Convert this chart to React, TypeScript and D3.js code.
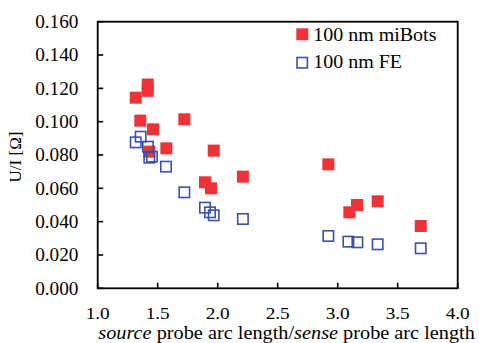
import React from "react";
import * as d3 from "d3";

// U/I versus probe arc-length ratio for two 100 nm probe types
const miBotsX = [1.317, 1.417, 1.417, 1.355, 1.461, 1.722, 1.43, 1.572, 1.967, 1.894, 1.944, 2.21, 2.922, 3.097, 3.161, 3.333, 3.692];
const miBotsY = [0.1144, 0.1223, 0.1185, 0.1006, 0.0954, 0.1014, 0.082, 0.084, 0.0826, 0.0636, 0.06, 0.067, 0.0744, 0.0456, 0.05, 0.0522, 0.0374];

const feX = [1.317, 1.358, 1.419, 1.43, 1.452, 1.569, 1.722, 1.894, 1.936, 1.967, 2.21, 2.922, 3.089, 3.164, 3.333, 3.692];
const feY = [0.0876, 0.091, 0.085, 0.0784, 0.079, 0.073, 0.0576, 0.0484, 0.0456, 0.0438, 0.0416, 0.0314, 0.028, 0.0276, 0.0264, 0.024];

const xTicks = [1.0, 1.5, 2.0, 2.5, 3.0, 3.5, 4.0];
const yTicks = [0, 0.02, 0.04, 0.06, 0.08, 0.1, 0.12, 0.14, 0.16];

const seriesNames = ["100 nm miBots", "100 nm FE"];

const W = 479;
const H = 343;
const left = 97.7;
const right = 457.7;
const top = 21.7;
const bottom = 288.3;

const RED = "#ee3238";
const BLUE = "#3d4fae";
const FONT = "Liberation Serif";

export default function App() {
  const x = d3.scaleLinear().domain([1, 4]).range([left, right]);
  const y = d3.scaleLinear().domain([0, 0.16]).range([bottom, top]);
  const s = 12;
  const tick = 5.5;
  const sx = (ax: number, k: number) => `translate(${ax} 0) scale(${k} 1) translate(${-ax} 0)`;

  return (
    <svg
      width={W}
      height={H}
      viewBox={`0 0 ${W} ${H}`}
      style={{ position: "absolute", left: 0, top: 0, background: "#fff", fontFamily: FONT }}
    >
      {/* ticks pointing inward */}
      {yTicks.map((t) => (
        <line key={`yt${t}`} x1={left} x2={left + tick} y1={y(t)} y2={y(t)} stroke="#000" strokeWidth={1.6} />
      ))}
      {xTicks.map((t) => (
        <line key={`xt${t}`} x1={x(t)} x2={x(t)} y1={bottom} y2={bottom - tick} stroke="#000" strokeWidth={1.6} />
      ))}

      {/* tick labels */}
      {yTicks.map((t) => (
        <text key={`yl${t}`} x={78.5} y={y(t) + 6.3} fontSize={18} textAnchor="end" fill="#000"
          transform={sx(78.5, 1.07)} style={{ fontFamily: FONT }}>
          {d3.format(".3f")(t)}
        </text>
      ))}
      {xTicks.map((t) => (
        <text key={`xl${t}`} x={x(t)} y={319.2} fontSize={17.5} textAnchor="middle" fill="#000"
          transform={sx(x(t), 1.1)} style={{ fontFamily: FONT }}>
          {d3.format(".1f")(t)}
        </text>
      ))}

      {/* axis titles */}
      <text x={98.3} y={338.8} fontSize={17.8} fill="#000" transform={sx(98.3, 1.14)} style={{ fontFamily: FONT }}>
        <tspan fontStyle="italic">source</tspan> probe arc length/<tspan fontStyle="italic">sense</tspan> probe arc length
      </text>
      <text transform={`translate(21 157) rotate(-90)`} fontSize={17} textAnchor="middle" fill="#000"
        style={{ fontFamily: FONT }}>
        U/I [Ω]
      </text>

      {/* miBots: filled red squares */}
      {miBotsX.map((v, i) => (
        <rect key={`r${i}`} x={x(v) - s / 2} y={y(miBotsY[i]) - s / 2} width={s} height={s} fill={RED} />
      ))}
      {/* FE: open blue squares */}
      {feX.map((v, i) => (
        <rect key={`b${i}`} x={x(v) - (s - 1.6) / 2} y={y(feY[i]) - (s - 1.6) / 2} width={s - 1.6} height={s - 1.6}
          fill="none" stroke={BLUE} strokeWidth={1.6} />
      ))}

      {/* legend */}
      <rect x={302.3 - 6} y={34.3 - 6} width={12} height={12} fill={RED} />
      <text x={313.3} y={40.8} fontSize={18} fill="#000" transform={sx(313.3, 1.11)} style={{ fontFamily: FONT }}>
        {seriesNames[0]}
      </text>
      <rect x={302.2 - 5.2} y={62.7 - 5.2} width={10.4} height={10.4} fill="none" stroke={BLUE} strokeWidth={1.6} />
      <text x={313.3} y={68.5} fontSize={18} fill="#000" transform={sx(313.3, 1.11)} style={{ fontFamily: FONT }}>
        {seriesNames[1]}
      </text>

      {/* plot frame */}
      <rect x={left} y={top} width={right - left} height={bottom - top} fill="none" stroke="#000" strokeWidth={1.8} />
    </svg>
  );
}
